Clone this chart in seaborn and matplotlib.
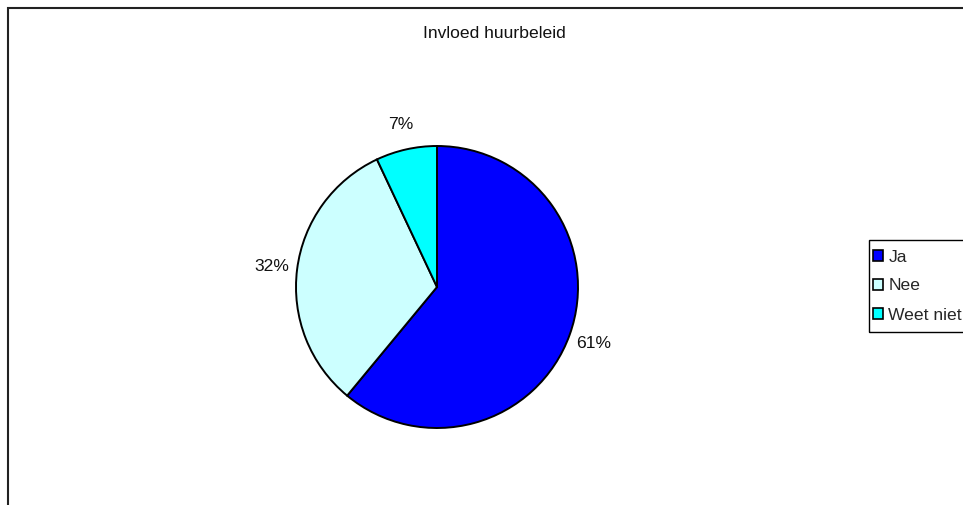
import matplotlib
matplotlib.use("Agg")
import matplotlib.pyplot as plt
import seaborn as sns
from matplotlib.patches import Rectangle

# Gegevens
categorieen = ["Ja", "Nee", "Weet niet"]
aandelen = [61, 32, 7]
kleuren = ["#0000FF", "#CCFFFF", "#00FFFF"]
titel = "Invloed huurbeleid"

sns.set_theme(style="white")
plt.rcParams['font.family'] = ['Liberation Sans', 'DejaVu Sans']

W, H = 963, 505
fig = plt.figure(figsize=(W / 100, H / 100), dpi=100)
fig.patch.set_facecolor("white")

# kader van het diagramgebied (loopt buiten de afbeelding door)
fig.patches.append(Rectangle((8 / W, -0.1), 2, 1.1 - 8 / H, transform=fig.transFigure,
                             fill=False, edgecolor="#222222", linewidth=1.5))

# taartdiagram: middelpunt (437, 287), straal 141 px
cx, cy, r, half = 437, 287, 141, 150
ax = fig.add_axes([(cx - half) / W, (H - cy - half) / H, 2 * half / W, 2 * half / H])
wedges, teksten, pct = ax.pie(aandelen, colors=kleuren, startangle=90, counterclock=False,
                              autopct="%1.0f%%", pctdistance=1.18,
                              wedgeprops=dict(edgecolor="black", linewidth=1.4),
                              textprops=dict(fontsize=12.6, color="#111111"))
ax.set_xlim(-half / r, half / r)
ax.set_ylim(-half / r, half / r)
ax.set_aspect("equal")
ax.axis("off")

fig.text(494 / W, 1 - 33 / H, titel, ha="center", va="center", fontsize=12.6, color="#111111")

# legendakader (rechts afgesneden, zoals in het origineel)
fig.patches.append(Rectangle((869 / W, 1 - 332 / H), 0.2, 92 / H, transform=fig.transFigure,
                             fill=False, edgecolor="black", linewidth=1.0))
leg = fig.legend(wedges, categorieen, loc="upper left", bbox_to_anchor=(869 / W, 1 - 246 / H),
                 bbox_transform=fig.transFigure, borderaxespad=0, frameon=False,
                 fontsize=12.6, handlelength=0.6, handleheight=0.6, handletextpad=0.3,
                 borderpad=0.2, labelspacing=0.8)
for h in leg.legend_handles:
    h.set_linewidth(1.2)

fig.savefig("out.png", dpi=100)
